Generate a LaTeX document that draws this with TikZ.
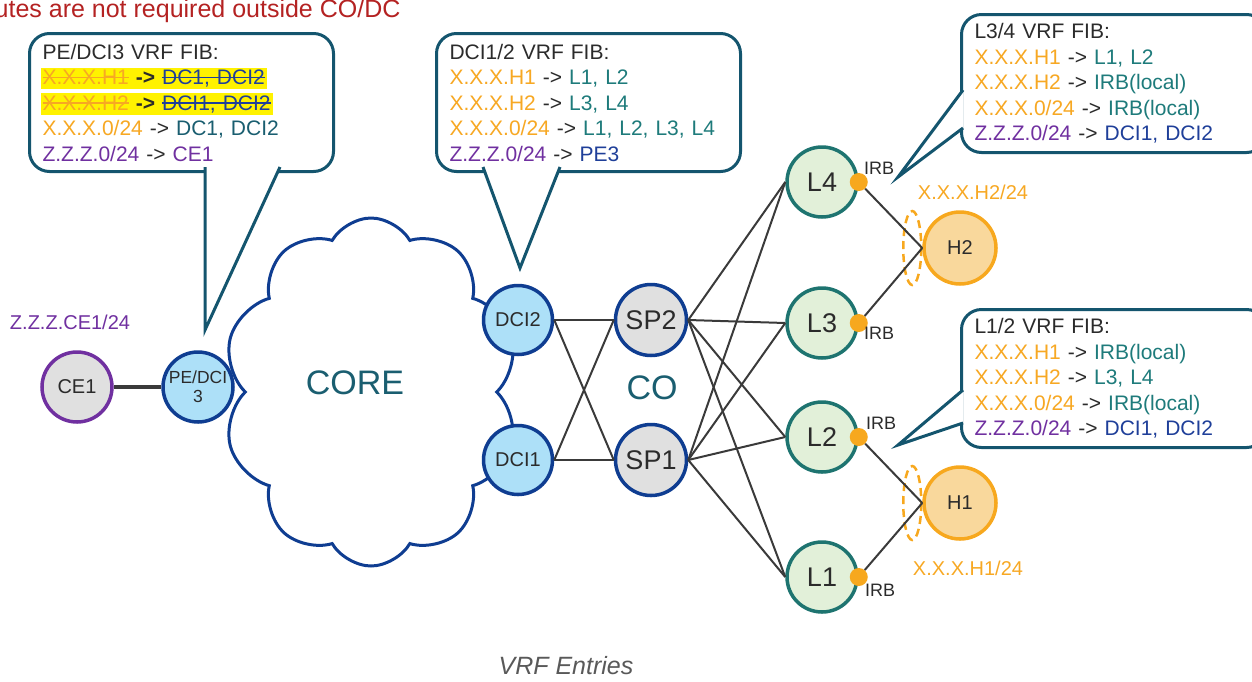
\documentclass[tikz,border=0pt]{standalone}
\usepackage{fontspec}
\setmainfont{Liberation Sans}
\usetikzlibrary{shapes.symbols}

\definecolor{titlered}{HTML}{B42222}
\definecolor{fibline}{HTML}{14556E}
\definecolor{xorange}{HTML}{F7A823}
\definecolor{zpurple}{HTML}{7030A0}
\definecolor{lteal}{HTML}{1E7B7B}
\definecolor{coreteal}{HTML}{1A5E70}
\definecolor{dcitext}{HTML}{1F3F99}
\definecolor{netblue}{HTML}{0F3D91}
\definecolor{dcifill}{HTML}{ADE0F8}
\definecolor{greyfill}{HTML}{E0E0E0}
\definecolor{leaffill}{HTML}{E2F0D9}
\definecolor{leafdraw}{HTML}{1E7470}
\definecolor{hostfill}{HTML}{F9D89C}
\definecolor{hostdraw}{HTML}{F7A81E}
\definecolor{txtdark}{HTML}{2B2B2B}
\definecolor{linkgrey}{HTML}{3A3A3A}
\definecolor{hlyellow}{HTML}{FFF200}
\definecolor{captiongrey}{HTML}{595959}

\newcommand{\onet}[1]{\textcolor{xorange}{#1}}
\newcommand{\znet}[1]{\textcolor{zpurple}{#1}}
\newcommand{\lhop}[1]{\textcolor{lteal}{#1}}
\newcommand{\dhop}[1]{\textcolor{dcitext}{#1}}
\newcommand{\struck}[2]{\setbox0=\hbox{#2}\copy0\llap{\color{#1}\rule[0.3em]{\wd0}{1.6pt}}}
\newcommand{\stale}[2]{{\setlength{\fboxsep}{2pt}\hspace{-2pt}\colorbox{hlyellow}{\struck{xorange}{\onet{#1}}~\textbf{->}~\struck{dcitext}{\dhop{#2}}}}}

\begin{document}
\begin{tikzpicture}[x=1pt, y=-1pt,
  every node/.style={text=txtdark},
  dev/.style={circle, line width=3.5pt, inner sep=0pt},
  spine/.style={dev, fill=greyfill, draw=netblue, minimum size=71pt, font=\fontsize{27}{30}\selectfont},
  leaf/.style={dev, fill=leaffill, draw=leafdraw, minimum size=70pt, font=\fontsize{27}{30}\selectfont},
  dci/.style={dev, fill=dcifill, draw=netblue, minimum size=69pt, font=\fontsize{20}{22}\selectfont},
  host/.style={dev, fill=hostfill, draw=hostdraw, minimum size=72pt, font=\fontsize{20}{22}\selectfont},
  irb/.style={circle, fill=hostdraw, inner sep=0pt, minimum size=18pt},
  link/.style={draw=linkgrey, line width=2pt},
  lag/.style={draw=hostdraw, line width=2.5pt, dash pattern=on 8pt off 5pt},
  fib/.style={draw=fibline, line width=3pt, fill=white, rounded corners=20pt, align=left,
    inner xsep=13pt, text width=278pt, minimum height=138pt, anchor=north west,
    font=\fontsize{21}{25.5}\selectfont},
  fibtip/.style={draw=fibline, line width=3pt, fill=white},
  addr/.style={font=\fontsize{20}{24}\selectfont},
  irbtag/.style={font=\fontsize{18}{20}\selectfont}]

\useasboundingbox (0,0) rectangle (1252,681);

\node[anchor=east, text=titlered, font=\fontsize{25}{28}\selectfont] (note) at (404,11) {Routes are not required outside CO/DC};

\node[cloud, cloud puffs=10, cloud puff arc=120, aspect=0.85, draw=netblue, line width=3pt,
  fill=white, minimum width=296pt, minimum height=348pt] (core) at (371,392) {};
\node[text=coreteal, font=\fontsize{34}{36}\selectfont] (corename) at (355,383) {CORE};
\node[text=coreteal, font=\fontsize{34}{36}\selectfont] (coname) at (652,388) {CO};

\node[dev, fill=greyfill, draw=zpurple, minimum size=70pt, font=\fontsize{20}{22}\selectfont] (ce1) at (77,387) {CE1};
\node[dci, minimum size=70pt, font=\fontsize{17.5}{19}\selectfont, align=center] (pe3) at (198,387) {PE/DCI\\3};
\node[dci] (dci2) at (518,320) {DCI2};
\node[dci] (dci1) at (518,460) {DCI1};
\node[spine] (sp2) at (651,320) {SP2};
\node[spine] (sp1) at (651,460) {SP1};
\node[leaf] (l4) at (822,182) {L4};
\node[leaf] (l3) at (822,323) {L3};
\node[leaf] (l2) at (822,437) {L2};
\node[leaf] (l1) at (822,577) {L1};
\node[host] (h2) at (960,248) {H2};
\node[host] (h1) at (960,503) {H1};

\node[addr, text=zpurple] (ce1addr) at (70,322) {Z.Z.Z.CE1/24};
\node[addr, text=xorange] (h2addr) at (973,192) {X.X.X.H2/24};
\node[addr, text=xorange] (h1addr) at (968,568) {X.X.X.H1/24};

\draw[lag] ([xshift=-10pt]h2.west) ellipse [x radius=9, y radius=37];
\draw[lag] ([xshift=-10pt]h1.west) ellipse [x radius=9, y radius=37];

\draw[link, line width=3.5pt] (ce1) -- (pe3);
\foreach \d in {dci1,dci2}
  \foreach \s in {sp1,sp2}
    \draw[link] (\d.east) -- (\s.west);
\foreach \s in {sp1,sp2}
  \foreach \l in {l1,l2,l3,l4}
    \draw[link] (\s.east) -- (\l.west);
\foreach \l/\h in {l4/h2,l3/h2,l2/h1,l1/h1} {
  \node[irb] (\l irb) at (\l.east) {};
  \draw[link] (\l irb) -- (\h.west);
}

\node[irbtag] (l4tag) at (879,168) {IRB};
\node[irbtag] (l3tag) at (879,333) {IRB};
\node[irbtag] (l2tag) at (881,423) {IRB};
\node[irbtag] (l1tag) at (880,590) {IRB};

\node[fib] (fibpe) at (28,32) {PE/DCI3 VRF FIB:\\
  \stale{X.X.X.H1}{DC1, DCI2}\\
  \stale{X.X.X.H2}{DCI1, DCI2}\\
  \onet{X.X.X.0/24} -> \textcolor{coreteal}{DC1, DCI2}\\
  \znet{Z.Z.Z.0/24} -> \znet{CE1}};
\draw[fibtip] (205,167) -- (205,330) -- (280,167);

\node[fib] (fibdci) at (435,32) {DCI1/2 VRF FIB:\\
  \onet{X.X.X.H1} -> \lhop{L1, L2}\\
  \onet{X.X.X.H2} -> \lhop{L3, L4}\\
  \onet{X.X.X.0/24} -> \lhop{L1, L2, L3, L4}\\
  \znet{Z.Z.Z.0/24} -> \dhop{PE3}};
\draw[fibtip] (483,167) -- (520,268) -- (560,167);

\node[fib, text width=279pt] (fibl34) at (960,13) {L3/4 VRF FIB:\\
  \onet{X.X.X.H1} -> \lhop{L1, L2}\\
  \onet{X.X.X.H2} -> \lhop{IRB(local)}\\
  \onet{X.X.X.0/24} -> \lhop{IRB(local)}\\
  \znet{Z.Z.Z.0/24} -> \dhop{DCI1, DCI2}};
\draw[fibtip] (963,90) -- (898,177) -- (963,128);

\node[fib, text width=279pt] (fibl12) at (960,308) {L1/2 VRF FIB:\\
  \onet{X.X.X.H1} -> \lhop{IRB(local)}\\
  \onet{X.X.X.H2} -> \lhop{L3, L4}\\
  \onet{X.X.X.0/24} -> \lhop{IRB(local)}\\
  \znet{Z.Z.Z.0/24} -> \dhop{DCI1, DCI2}};
\draw[fibtip] (963,390) -- (898,445) -- (963,423);

\node[text=captiongrey, font=\itshape\fontsize{25}{28}\selectfont] (caption) at (566,666) {VRF Entries};
\end{tikzpicture}
\end{document}
